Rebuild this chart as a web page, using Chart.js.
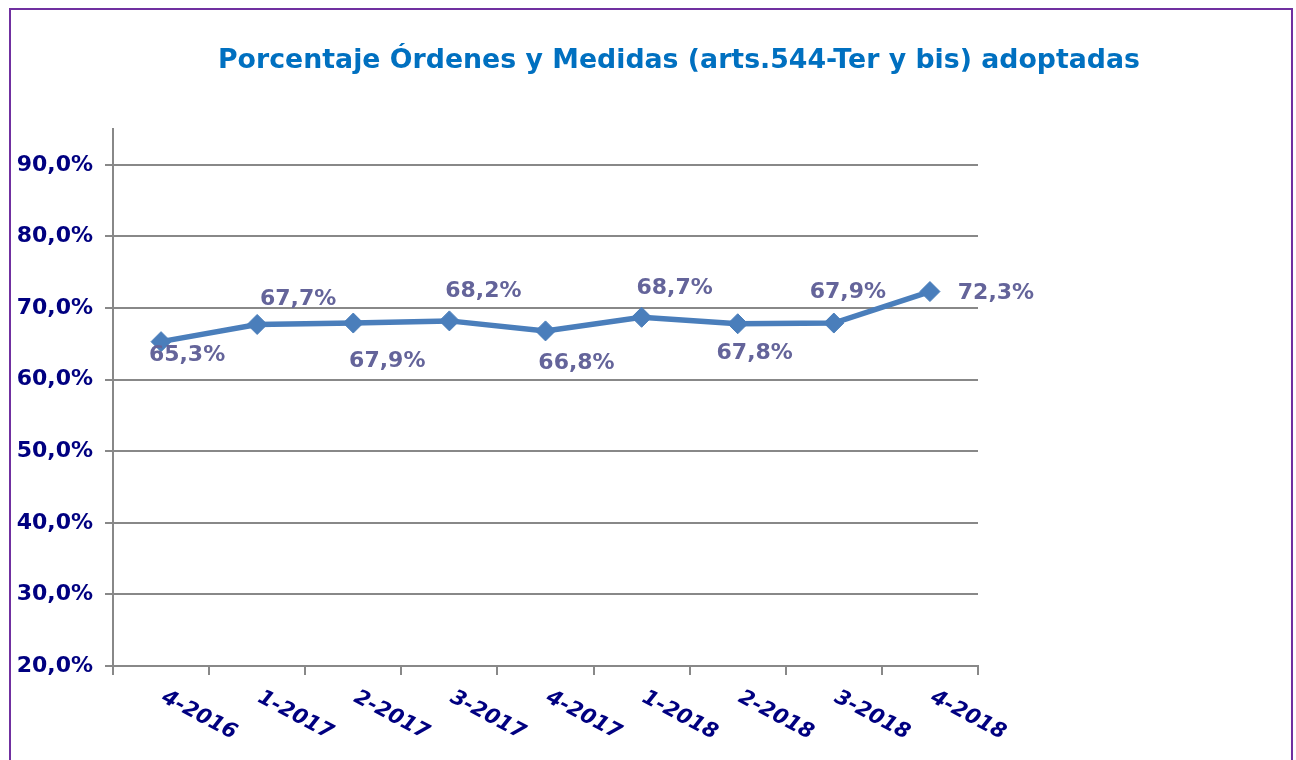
<!DOCTYPE html>
<html><head><meta charset="utf-8">
<script src="https://cdn.jsdelivr.net/npm/chart.js@4/dist/chart.umd.min.js"></script>
<style>html,body{margin:0;padding:0;background:#fff;overflow:hidden}</style>
</head><body>
<canvas id="c" width="1296" height="760"></canvas>
<script>
const chartTitle = 'Porcentaje Órdenes y Medidas (arts.544-Ter y bis) adoptadas';
const categories = ['4-2016','1-2017','2-2017','3-2017','4-2017','1-2018','2-2018','3-2018','4-2018'];
const values = [65.3, 67.7, 67.9, 68.2, 66.8, 68.7, 67.8, 67.9, 72.3];
const yMin = 20, yMax = 95, yStep = 10, yTopTick = 90;

// label placement relative to each point (style only)
const labelOffsets = [[26,14],[41,-25],[34,38],[34,-30],[31,32],[33,-29],[17,30],[14,-31],[66,2]];

const fmt = v => v.toFixed(1).replace('.', ',') + '%';
const FONT = '"DejaVu Sans", Verdana, sans-serif';

function fitText(ctx, text, x, y, targetW) {
  const w = ctx.measureText(text).width;
  ctx.save();
  ctx.translate(x, y);
  ctx.scale(targetW / w, 1);
  ctx.fillText(text, 0, 0);
  ctx.restore();
}

const decor = {
  id: 'decor',
  beforeDraw(chart) {
    const ctx = chart.ctx;
    ctx.save();
    ctx.fillStyle = '#fff';
    ctx.fillRect(0, 0, chart.width, chart.height);
    ctx.restore();
  },
  afterDraw(chart) {
    const ctx = chart.ctx;
    const xs = chart.scales.x, ys = chart.scales.y;
    ctx.save();
    // frame
    ctx.strokeStyle = '#7030A0';
    ctx.lineWidth = 2;
    ctx.strokeRect(10, 9, 1282, 800);
    // title
    ctx.font = 'bold 27px ' + FONT;
    ctx.fillStyle = '#0070C0';
    ctx.textBaseline = 'middle';
    ctx.textAlign = 'left';
    fitText(ctx, chartTitle, 218, 61, 922);
    // data labels
    ctx.font = 'bold 22px ' + FONT;
    ctx.fillStyle = '#64649A';
    ctx.textAlign = 'center';
    ctx.textBaseline = 'middle';
    values.forEach((v, i) => {
      const px = xs.getPixelForValue(i), py = ys.getPixelForValue(v);
      const o = labelOffsets[i];
      ctx.fillText(fmt(v), px + o[0], py + o[1]);
    });
    // x labels, rotated clockwise
    ctx.font = 'italic bold 21px ' + FONT;
    ctx.fillStyle = '#000080';
    ctx.textAlign = 'left';
    ctx.textBaseline = 'top';
    const ang = 28 * Math.PI / 180;
    categories.forEach((c, i) => {
      const px = xs.getPixelForValue(i);
      ctx.save();
      ctx.translate(px + 7, ys.bottom + 21);
      ctx.rotate(ang);
      ctx.fillText(c, 0, 0);
      ctx.restore();
    });
    ctx.restore();
  }
};

new Chart(document.getElementById('c'), {
  type: 'line',
  data: {
    labels: categories,
    datasets: [{
      data: values,
      borderColor: '#4A7EBB',
      backgroundColor: '#4A7EBB',
      borderWidth: 5.5,
      pointStyle: 'rectRot',
      pointRadius: 10,
      pointBackgroundColor: '#4A7EBB',
      pointBorderColor: '#4A7EBB',
      pointBorderWidth: 1,
      tension: 0,
      clip: false
    }]
  },
  options: {
    responsive: false,
    animation: false,
    devicePixelRatio: 1,
    layout: { padding: { top: 129, right: 318, left: 0, bottom: 0 } },
    plugins: { legend: { display: false }, tooltip: { enabled: false }, title: { display: false } },
    scales: {
      x: {
        offset: true,
        grid: { offset: true, drawOnChartArea: false, drawTicks: true, tickLength: 9, color: '#888888', lineWidth: 2 },
        border: { color: '#888888', width: 2 },
        ticks: { display: false },
        afterFit: s => { s.height = 94; }
      },
      y: {
        min: yMin, max: yMax,
        ticks: {
          stepSize: yStep,
          callback: v => fmt(v),
          color: '#000080',
          font: { family: FONT, size: 22, weight: 'bold' },
          padding: 12
        },
        afterBuildTicks: s => { s.ticks = s.ticks.filter(t => t.value <= yTopTick); },
        grid: { color: '#888888', lineWidth: 2, tickLength: 8 },
        border: { color: '#888888', width: 2 },
        afterFit: s => { s.width = 113; }
      }
    }
  },
  plugins: [decor]
});
</script>
</body></html>
